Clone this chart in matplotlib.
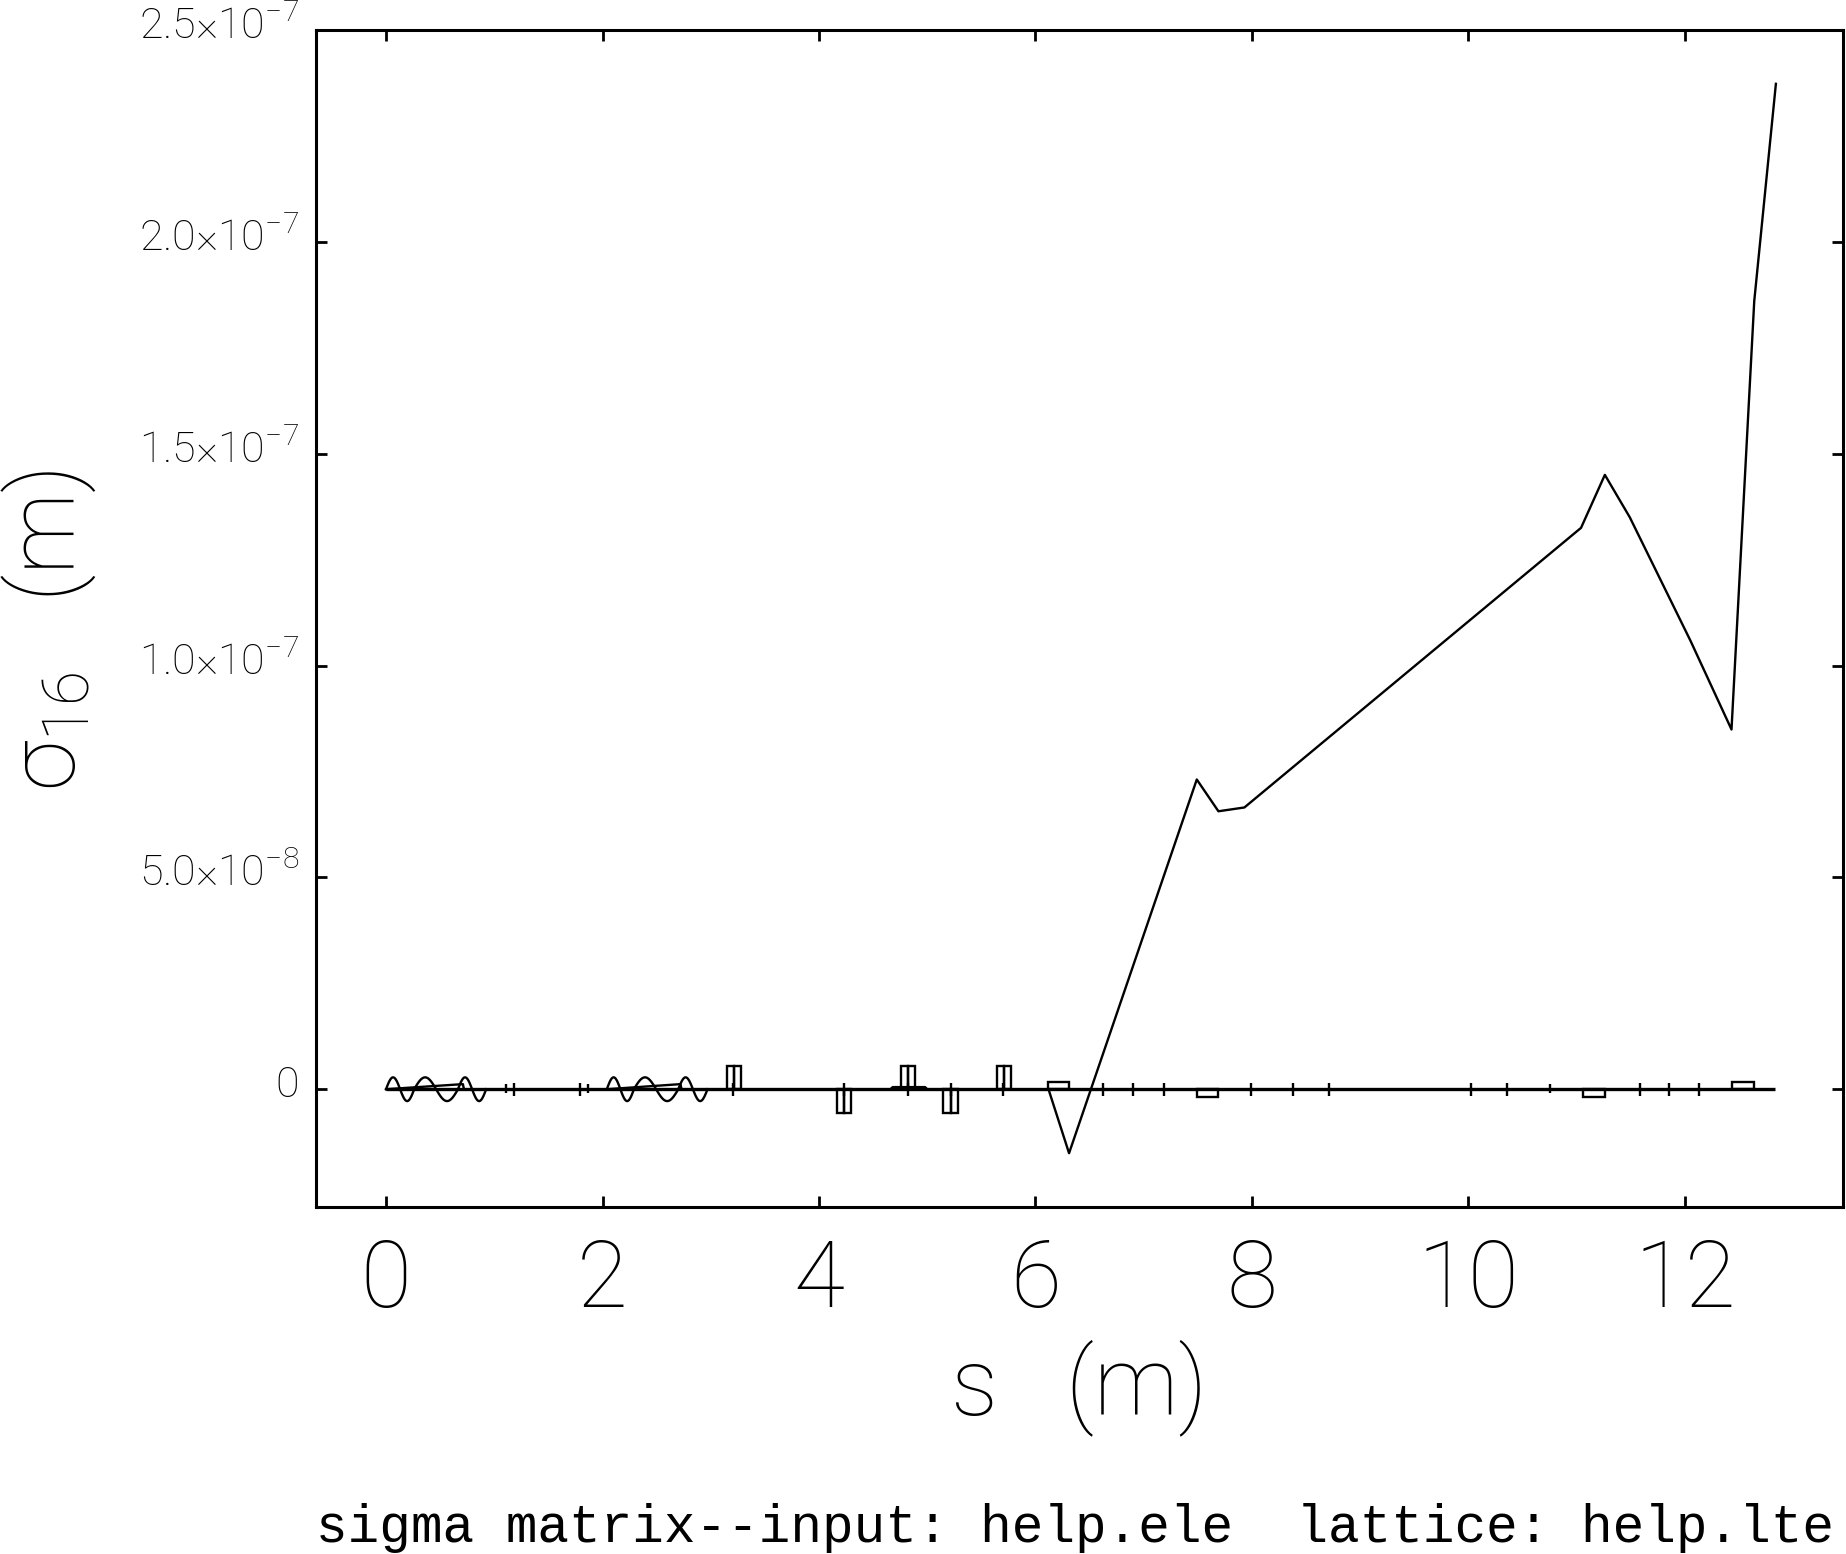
import numpy as np
import matplotlib
matplotlib.use("Agg")
import matplotlib.pyplot as plt
from matplotlib import transforms
from matplotlib.patches import Rectangle

# --- data ---
s_pos = [0.0, 0.71, 0.72, 2.04, 2.72, 2.73, 4.66, 4.68, 4.98, 5.00, 6.12, 6.31,
         7.49, 7.69, 7.93, 11.04, 11.26, 11.49, 12.05, 12.43, 12.64, 12.84]
sigma16 = [0.0, 0.12, 0.0, 0.0, 0.12, 0.0, 0.0, 0.05, 0.05, 0.0, 0.0, -1.51,
           7.31, 6.56, 6.65, 13.25, 14.5, 13.5, 10.59, 8.49, 18.6, 23.73]  # x1e-8 m

# lattice profile elements
cav_start = [0.0, 0.26, 0.665, 2.04, 2.29, 2.70]
cav_len = [0.26, 0.405, 0.26, 0.25, 0.41, 0.27]
quad_start = [3.15, 4.17, 4.76, 5.15, 5.64]
quad_len = [0.13, 0.13, 0.13, 0.13, 0.13]
quad_sign = [1, -1, 1, -1, 1]
bend_start = [6.12, 7.49, 11.06, 12.43]
bend_len = [0.19, 0.20, 0.20, 0.21]
bend_sign = [1, -1, -1, 1]
marker_pos = [1.18, 1.79, 3.21, 4.23, 4.82, 5.22, 5.70, 6.62, 6.90, 7.19,
              7.99, 8.38, 8.71, 10.02, 10.36, 11.58, 11.85, 12.13]
short_marker_pos = [1.11, 1.87, 10.75]
line_end = 12.83

ytick_vals = [0.0, 5e-8, 1e-7, 1.5e-7, 2e-7, 2.5e-7]
ytick_labels = ["0", r"$\mathregular{5.0{\times}10^{-8}}$", r"$\mathregular{1.0{\times}10^{-7}}$",
                r"$\mathregular{1.5{\times}10^{-7}}$", r"$\mathregular{2.0{\times}10^{-7}}$",
                r"$\mathregular{2.5{\times}10^{-7}}$"]
xtick_vals = [0, 2, 4, 6, 8, 10, 12]

plt.rcParams["font.family"] = ["Roboto", "DejaVu Sans"]
plt.rcParams["font.weight"] = "light"
plt.rcParams["axes.labelweight"] = "light"

fig = plt.figure(figsize=(18.46, 15.54), dpi=100)
ax = fig.add_axes([316 / 1846, 1 - 1207 / 1554, 1527 / 1846, 1177 / 1554])

lw = 1.7
ax.plot([0, line_end], [0, 0], color="black", lw=2.4, solid_capstyle="butt")

# cavities as one sine period each
for st, ln in zip(cav_start, cav_len):
    t = np.linspace(0, 1, 60)
    ax.plot(st + t * ln, 0.28e-8 * np.sin(2 * np.pi * t), color="black", lw=lw)

# quads: two halves side by side
for st, ln, sg in zip(quad_start, quad_len, quad_sign):
    h = 0.55e-8 * sg
    for k in range(2):
        ax.add_patch(Rectangle((st + k * ln / 2, 0), ln / 2, h, fill=False,
                               edgecolor="black", lw=lw))

for st, ln, sg in zip(bend_start, bend_len, bend_sign):
    ax.add_patch(Rectangle((st, 0), ln, 0.18e-8 * sg, fill=False, edgecolor="black", lw=lw))

ax.vlines(marker_pos, -0.16e-8, 0.15e-8, color="black", lw=lw)
ax.vlines(short_marker_pos, -0.08e-8, 0.12e-8, color="black", lw=lw)

ax.plot(s_pos, np.array(sigma16) * 1e-8, color="black", lw=lw)

ax.set_xlim(-0.647, 13.46)
ax.set_ylim(-2.78e-8, 2.5e-7)
ax.set_xticks(xtick_vals)
ax.set_yticks(ytick_vals)
ax.set_yticklabels(ytick_labels)
ax.tick_params(direction="in", length=8, width=2, top=True, right=True)
ax.tick_params(axis="x", labelsize=67, pad=22)
ax.tick_params(axis="y", labelsize=31, pad=12)
for sp in ax.spines.values():
    sp.set_linewidth(2.2)

# nudge y labels up a bit like the reference
off = transforms.ScaledTranslation(0, 8 / 100, fig.dpi_scale_trans)
for lab in ax.get_yticklabels():
    lab.set_transform(lab.get_transform() + off)

ax.set_xlabel("s   (m)", fontsize=68, va="top", fontweight="light")
ax.xaxis.set_label_coords(0.5, -0.112)
ax.set_ylabel(r"$\mathregular{σ_{16}}$   (m)", fontsize=66, fontweight="light")
ax.yaxis.set_label_coords(-0.143, 0.49)

fig.text(316 / 1846, 1 - 1542 / 1554, "sigma matrix--input: help.ele  lattice: help.lte",
         fontsize=38, ha="left", va="baseline", family="Liberation Mono")

fig.savefig("out.png", dpi=100)
